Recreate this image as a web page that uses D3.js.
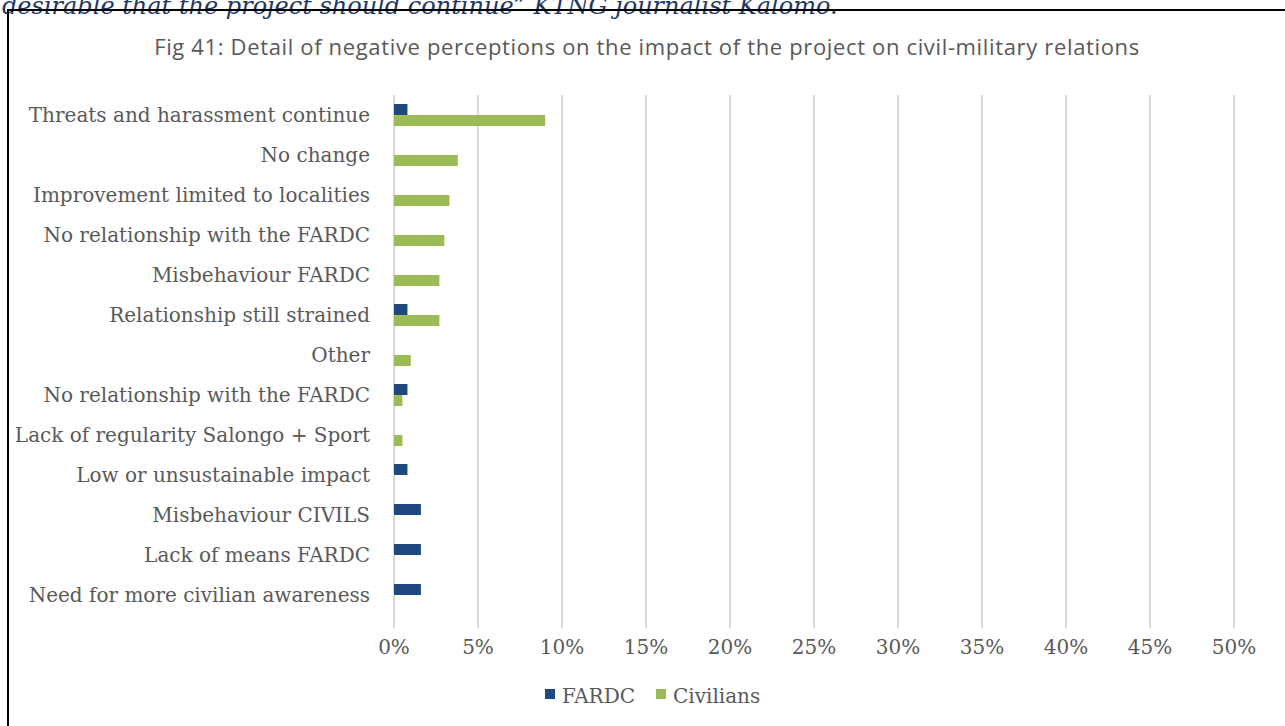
<!DOCTYPE html>
<meta charset="utf-8">
<style>
  body { margin: 0; background: #fff; }
  .label { font-family: "DejaVu Serif", serif; font-size: 20px; fill: #595959; }
  .title { font-family: "Open Sans", sans-serif; font-size: 22px; letter-spacing: 0.65px; fill: #595959; }
  .quote { font-family: "DejaVu Serif", serif; font-style: italic; font-size: 24px; fill: #1f3864; }
</style>
<body>
<svg width="1285" height="726"></svg>
<script src="https://d3js.org/d3.v7.min.js"></script>
<script>

var categories = [
  "Threats and harassment continue",
  "No change",
  "Improvement limited to localities",
  "No relationship with the FARDC",
  "Misbehaviour FARDC",
  "Relationship still strained",
  "Other",
  "No relationship with the FARDC ",
  "Lack of regularity Salongo + Sport",
  "Low or unsustainable impact",
  "Misbehaviour CIVILS",
  "Lack of means FARDC",
  "Need for more civilian awareness"
];
var fardc     = [0.8, 0, 0, 0, 0, 0.8, 0, 0.8, 0, 0.8, 1.6, 1.6, 1.6];
var civilians = [9.0, 3.8, 3.3, 3.0, 2.7, 2.7, 1.0, 0.5, 0.5, 0, 0, 0, 0];
var seriesNames = ["FARDC", "Civilians"];
var seriesColors = ["#1f497d", "#9bbb59"];
var ticks = [0, 5, 10, 15, 20, 25, 30, 35, 40, 45, 50];

var svg = d3.select("svg");

// frame and cut-off quote from the page above
svg.append("text").attr("class", "quote")
    .attr("x", 2).attr("y", 14)
    .text("desirable that the project should continue\u201D KTNG journalist Kalomo.");
svg.append("path")
    .attr("d", "M8,740V10H1290")
    .attr("fill", "none").attr("stroke", "#000").attr("stroke-width", 2);

svg.append("text").attr("class", "title")
    .attr("x", 647).attr("y", 55)
    .attr("text-anchor", "middle")
    .text("Fig 41: Detail of negative perceptions on the impact of the project on civil-military relations");

var x = d3.scaleLinear().domain([0, 50]).range([394, 1234]);
var y = d3.scaleBand().domain(categories).range([95, 615]);
var sub = d3.scaleBand().domain(seriesNames).range([y.bandwidth() / 2 - 11, y.bandwidth() / 2 + 11]);

svg.append("g").selectAll("line")
  .data(ticks).join("line")
    .attr("x1", d => x(d)).attr("x2", d => x(d))
    .attr("y1", 95).attr("y2", 628)
    .attr("stroke", "#d9d9d9").attr("stroke-width", 2);

svg.append("g").selectAll("text")
  .data(ticks).join("text")
    .attr("class", "label")
    .attr("x", d => x(d)).attr("y", 654)
    .attr("text-anchor", "middle")
    .text(d => d + "%");

svg.append("g").selectAll("text")
  .data(categories).join("text")
    .attr("class", "label")
    .attr("x", 370).attr("y", d => y(d) + y.bandwidth() / 2 + 7)
    .attr("text-anchor", "end")
    .text(d => d);

var rows = categories.map((c, i) => ({ cat: c, vals: [fardc[i], civilians[i]] }));
var g = svg.append("g").selectAll("g")
  .data(rows).join("g")
    .attr("transform", d => "translate(0," + y(d.cat) + ")");
g.selectAll("rect")
  .data(d => d.vals.map((v, j) => ({ v: v, s: seriesNames[j], c: seriesColors[j] })))
  .join("rect")
    .attr("x", x(0))
    .attr("y", d => sub(d.s))
    .attr("width", d => x(d.v) - x(0))
    .attr("height", sub.bandwidth())
    .attr("fill", d => d.c);

// legend
var legend = svg.append("g");
var lx = [545, 656];
seriesNames.forEach(function(s, i) {
  legend.append("rect").attr("x", lx[i]).attr("y", 689).attr("width", 10).attr("height", 10)
      .attr("fill", seriesColors[i]);
  legend.append("text").attr("class", "label").attr("x", lx[i] + 17).attr("y", 703).text(s);
});

</script>
</body>
